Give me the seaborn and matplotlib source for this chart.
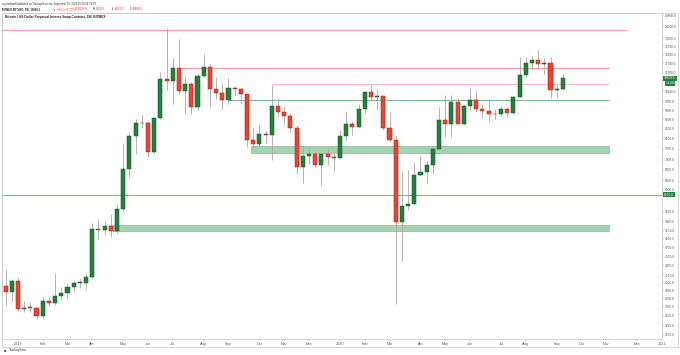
import numpy as np
import pandas as pd
import matplotlib
matplotlib.use('Agg')
import matplotlib.pyplot as plt
import matplotlib.dates as mdates
from matplotlib.patches import Rectangle
from matplotlib.ticker import NullLocator
import seaborn as sns

sns.set_theme(style='white')
plt.rcParams['font.family'] = ['Liberation Sans', 'DejaVu Sans']

# weekly BITMEX:XBTUSD candles, first week starts 2018-12-24
week_start = '2018-12-24'
opens = [3940, 3820, 4040, 3510, 3540, 3530, 3400, 3650, 3620, 3750, 3800, 3920, 3990, 4000,
         4120, 5190, 5165, 5270, 5150, 5720, 6970, 8180, 8730, 8750, 7560, 8950, 10800, 10740,
         11450, 10200, 10580, 9450, 10960, 11500, 10300, 10100, 9750, 10370, 10300, 10050, 8050,
         7860, 8270, 8230, 9500, 9190, 9040, 8530, 7050, 7420, 7510, 7100, 7510, 7390, 7350,
         8180, 8700, 8580, 9370, 10150, 9900, 9950, 8530, 8050, 5370, 5830, 5880, 6780, 6860,
         7120, 7700, 8870, 8700, 9680, 8700, 9470, 9750, 9340, 9270, 9120, 9100, 9330, 9170,
         9930, 11050, 11680, 11890, 11640, 11700, 10250, 10328]
highs = [4270, 4080, 4100, 3660, 3640, 3550, 3730, 3720, 4190, 3910, 4000, 4050, 4100, 4200,
         5340, 5450, 5400, 5600, 5850, 7900, 8350, 8900, 9130, 8800, 9000, 11200, 13880, 11980,
         13190, 10960, 10650, 11100, 12240, 11650, 10950, 10600, 10900, 10450, 10350, 10100, 8500,
         8700, 8400, 10500, 9850, 9500, 9150, 8600, 7850, 7750, 7650, 7520, 7700, 7550, 8450,
         9200, 8800, 9600, 10150, 10500, 10300, 9990, 9230, 8180, 6900, 6950, 7200, 7450, 7250,
         7770, 9460, 10020, 10000, 9850, 9550, 10400, 10200, 9600, 9780, 9350, 9470, 9420, 9950,
         12060, 12050, 12100, 12490, 12000, 12050, 10570, 11091.5]
lows = [3570, 3640, 3480, 3470, 3470, 3350, 3340, 3570, 3590, 3670, 3690, 3820, 3900, 3870,
        4080, 4950, 5050, 5000, 5100, 5680, 6700, 7500, 8500, 7400, 7500, 8900, 10270, 9600,
        10050, 9100, 9100, 9320, 10950, 9450, 9800, 9350, 9600, 9950, 9600, 7780, 7700,
        7800, 7900, 7300, 9000, 8700, 8350, 6800, 6520, 7150, 7030, 6440, 7120, 6900, 7340,
        8000, 8250, 8540, 9120, 9700, 9300, 8450, 8000, 3600, 4440, 5700, 5860, 6750, 6500,
        6800, 7650, 8150, 8150, 8800, 8630, 9250, 9200, 8950, 8830, 8900, 9050, 9000, 9100,
        9900, 10930, 11300, 11350, 11100, 9880, 9880, 10251]
closes = [3820, 4040, 3510, 3540, 3530, 3400, 3650, 3620, 3750, 3800, 3920, 3990, 4000, 4120,
          5190, 5165, 5270, 5150, 5720, 6970, 8180, 8730, 8750, 7560, 8950, 10800, 10740, 11450,
          10200, 10580, 9450, 10960, 11500, 10300, 10100, 9750, 10370, 10300, 10050, 8050, 7860,
          8270, 8230, 9500, 9190, 9040, 8530, 7050, 7420, 7510, 7100, 7510, 7390, 7350, 8180,
          8700, 8580, 9370, 10150, 9900, 9950, 8530, 8050, 5370, 5830, 5880, 6780, 6860, 7120,
          7700, 8870, 8700, 9680, 8700, 9470, 9750, 9340, 9270, 9120, 9100, 9330, 9170, 9930,
          11050, 11680, 11890, 11640, 11700, 10250, 10330, 10858.5]

# drawn levels
red_levels = [13750, 11450, 10550]
red_starts = ['2018-12-01', '2019-07-08', '2019-10-21']
red_ends = ['2020-11-26', '2020-11-05', '2020-11-05']
green_levels = [9750, 6150]
green_starts = ['2019-09-02', '2018-12-01']
green_ends = ['2020-11-05', '2021-02-01']
zone_lows = [7520, 5150]
zone_highs = [7815, 5300]
zone_starts = ['2019-09-28', '2019-04-24']
zone_ends = ['2020-11-05', '2020-11-05']

price_ticks = [14800, 14000, 13200, 12700, 12200, 11700, 11200, 10200, 9700, 9300, 8900,
               8500, 8100, 7700, 7300, 6950, 6600, 6300, 5650, 5400, 5150, 4950, 4750, 4550,
               4350, 4150, 4000, 3850, 3700, 3550, 3400, 3250, 3100]
last_price = 10858.5
line_price = 6150
month_labels = ['2019', 'Feb', 'Mar', 'Apr', 'May', 'Jun', 'Jul', 'Aug', 'Sep', 'Oct', 'Nov', 'Dec',
                '2020', 'Feb', 'Mar', 'Apr', 'May', 'Jun', 'Jul', 'Aug', 'Sep', 'Oct', 'Nov', 'Dec',
                '2021']

df = pd.DataFrame({'open': opens, 'high': highs, 'low': lows, 'close': closes})
df['date'] = pd.date_range(week_start, periods=len(df), freq='W-MON')
x = mdates.date2num(df['date'])
up = df['close'] >= df['open']

W, H = 680, 355
fig = plt.figure(figsize=(W / 100, H / 100), dpi=100)
ax = fig.add_axes([2 / W, (H - 339) / H, 660 / W, (339 - 13) / H])
ax.set_yscale('log')
ax.set_ylim(3035, 14950)
ax.set_xlim(mdates.date2num(pd.Timestamp('2018-12-20')), mdates.date2num(pd.Timestamp('2021-01-03')))

# levels and zones
for lv, s, e in zip(red_levels, red_starts, red_ends):
    lw = 0.5 if lv == 10550 else 1.0
    ax.hlines(lv, mdates.date2num(pd.Timestamp(s)), mdates.date2num(pd.Timestamp(e)),
              color='#f5a3a3', lw=lw, zorder=1)
for lv, s, e in zip(green_levels, green_starts, green_ends):
    ax.hlines(lv, mdates.date2num(pd.Timestamp(s)), mdates.date2num(pd.Timestamp(e)),
              color='#7fba8c', lw=0.8, zorder=1)
for lo, hi, s, e in zip(zone_lows, zone_highs, zone_starts, zone_ends):
    x0 = mdates.date2num(pd.Timestamp(s))
    x1 = mdates.date2num(pd.Timestamp(e))
    ax.add_patch(Rectangle((x0, lo), x1 - x0, hi - lo, facecolor='#a2d0ad',
                           edgecolor='#7fb98c', lw=0.5, zorder=1.5, alpha=0.95))

# candles
ax.vlines(x, df['low'], df['high'], color='#a8a8a8', lw=0.6, zorder=2)
body_lo = np.minimum(df['open'], df['close'])
body_h = np.maximum(np.abs(df['close'] - df['open']), 15)
ax.bar(x[up], body_h[up], bottom=body_lo[up], width=4.6, color='#24803a',
       edgecolor='#145224', linewidth=0.35, zorder=3)
ax.bar(x[~up], body_h[~up], bottom=body_lo[~up], width=4.6, color='#f0402f',
       edgecolor='#9c2418', linewidth=0.35, zorder=3)

# axes styling
for sp in ax.spines.values():
    sp.set_color('#c9c9c9')
    sp.set_linewidth(0.5)
ax.grid(False)
ax.yaxis.tick_right()
ax.yaxis.set_minor_locator(NullLocator())
ax.set_yticks(price_ticks)
ax.set_yticklabels([f'{v:.1f}' for v in price_ticks])
ax.tick_params(axis='y', labelsize=2.3, length=1.2, width=0.3, color='#888888',
               labelcolor='#555555', pad=0.8, right=True, left=False)
tick_dates = pd.date_range('2019-01-01', periods=len(month_labels), freq='WOM-1MON')
ax.set_xticks(mdates.date2num(tick_dates))
ax.set_xticklabels(month_labels)
ax.tick_params(axis='x', labelsize=2.7, length=1.2, width=0.3, color='#888888',
               labelcolor='#555555', pad=1.2, bottom=True)
for lab in ax.get_xticklabels():
    lab.set_clip_on(False)

ytr = ax.get_yaxis_transform()
ax.text(1.003, last_price, f'{last_price:.1f}', transform=ytr, fontsize=2.3, color='white',
        va='center', ha='left', bbox=dict(boxstyle='square,pad=0.25', fc='#24803a', ec='none'))
ax.annotate('3d 05h', xy=(1.003, last_price), xycoords=ytr, xytext=(1.2, -3.6),
            textcoords='offset points', fontsize=2.1, color='white', va='center', ha='left',
            bbox=dict(boxstyle='square,pad=0.25', fc='#24803a', ec='none'))
ax.text(1.003, line_price, f'{line_price:.1f}', transform=ytr, fontsize=2.3, color='white',
        va='center', ha='left', bbox=dict(boxstyle='square,pad=0.25', fc='#24803a', ec='none'))

# outer frame
fig.patches.append(Rectangle((2 / W, (H - 347) / H), 676 / W, 334 / H, transform=fig.transFigure,
                             fill=False, edgecolor='#c9c9c9', lw=0.5))

# header texts
def px(xp, yp):
    return xp / W, 1 - yp / H

fig.text(*px(2, 4), 'cryptodomall published on TradingView.com, September 18, 2020 18:58:54 CEST',
         fontsize=1.9, color='#333333', va='center')
fig.text(*px(2, 9.5), 'BITMEX:XBTUSD, 1W  10858.5', fontsize=1.9, color='#222222',
         va='center', fontweight='bold')
fig.text(*px(53, 9.5), '\u25bc  \u221283.5 (\u22120.76%)', fontsize=1.9, color='#e0302a', va='center')
ohlc = [('O:', '10328.0', 75), ('H:', '11091.5', 93), ('L:', '10251.0', 112), ('C:', '10858.5', 130)]
for k, v, xp in ohlc:
    fig.text(*px(xp, 9.5), k, fontsize=1.9, color='#222222', va='center')
    fig.text(*px(xp + 3, 9.5), v, fontsize=1.9, color='#e0302a', va='center')
fig.text(*px(5, 17), 'Bitcoin / US Dollar Perpetual Inverse Swap Contract, 1W, BITMEX',
         fontsize=2.3, color='#222222', va='center', fontweight='bold')
fig.text(*px(4, 350.5), '\u25a0', fontsize=3, color='#2962ff', va='center')
fig.text(*px(9, 350.5), 'TradingView', fontsize=2.3, color='#333333', va='center')

fig.savefig('out.png', dpi=100)
